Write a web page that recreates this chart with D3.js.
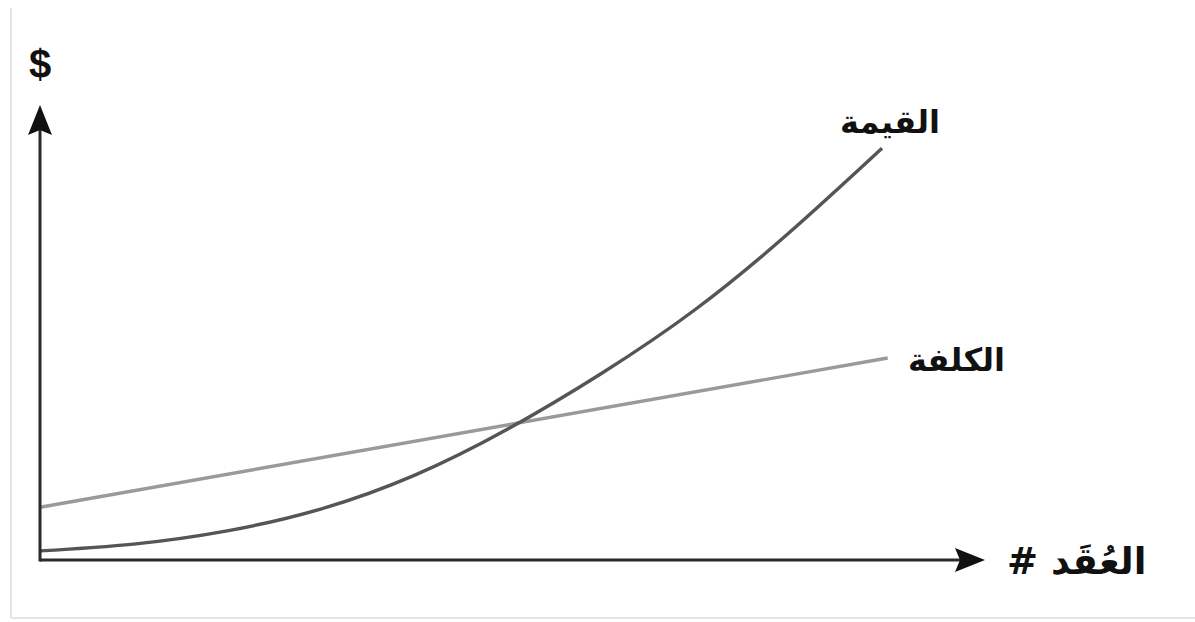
<!DOCTYPE html>
<html><head><meta charset="utf-8">
<script src="https://cdn.jsdelivr.net/npm/d3@7"></script>
<style>
html,body{margin:0;padding:0;background:#fff;}
svg{display:block;}
</style></head>
<body>
<svg id="chart" width="1195" height="622"></svg>
<script>
// Data (arbitrary units)
const contracts = [0, 1, 2, 3, 4, 5, 6, 7, 8, 9];
const valueSeries = [2.0, 3.5, 6.4, 11.2, 18.6, 28.8, 41.0, 55.0, 71.8, 90.5];
const costX = [0, 9.06];
const costSeries = [11.6, 44.4];
const labels = { value: "القيمة", cost: "الكلفة", xTitle: "# العُقَد", yTitle: "$" };
const xMax = 10.1, yMax = 100;

const svg = d3.select("#chart");
const x = d3.scaleLinear().domain([0, xMax]).range([40, 985]);
const y = d3.scaleLinear().domain([0, yMax]).range([560, 105]);

// faint frame
svg.append("line").attr("x1", 11).attr("x2", 11).attr("y1", 8).attr("y2", 618)
  .attr("stroke", "#e4e4e4").attr("stroke-width", 2);
svg.append("line").attr("x1", 11).attr("x2", 1195).attr("y1", 618).attr("y2", 618)
  .attr("stroke", "#e4e4e4").attr("stroke-width", 2);

const line = d3.line().x(d => x(d[0])).y(d => y(d[1])).curve(d3.curveNatural);

// cost line
svg.append("path")
  .datum(costX.map((v, i) => [v, costSeries[i]]))
  .attr("d", line).attr("fill", "none")
  .attr("stroke", "#9a9a9a").attr("stroke-width", 3.4);

// value curve
svg.append("path")
  .datum(contracts.map((v, i) => [v, valueSeries[i]]))
  .attr("d", line).attr("fill", "none")
  .attr("stroke", "#555").attr("stroke-width", 3.4);

// axes
const axisColor = "#2a2a2a";
const ax = svg.append("g");
ax.append("line").attr("x1", x(0)).attr("x2", x(xMax) - 20).attr("y1", y(0)).attr("y2", y(0))
  .attr("stroke", axisColor).attr("stroke-width", 3);
ax.append("line").attr("x1", x(0)).attr("x2", x(0)).attr("y1", y(0) + 1.5).attr("y2", y(yMax) + 20)
  .attr("stroke", axisColor).attr("stroke-width", 3);
// arrowheads
const tx = x(xMax), ty = y(0);
ax.append("path")
  .attr("d", `M${tx},${ty} L${tx - 30},${ty - 12} L${tx - 25},${ty} L${tx - 30},${ty + 12} Z`)
  .attr("fill", "#111");
const ux = x(0), uy = y(yMax);
ax.append("path")
  .attr("d", `M${ux},${uy} L${ux - 12},${uy + 30} L${ux},${uy + 25} L${ux + 12},${uy + 30} Z`)
  .attr("fill", "#111");

// texts
svg.append("text").attr("x", x(0)).attr("y", 78).attr("text-anchor", "middle")
  .attr("font-family", "Liberation Sans, Arial, sans-serif").attr("font-weight", "bold")
  .attr("font-size", 40).attr("fill", "#111").text(labels.yTitle);

const arab = "DejaVu Sans, Noto Sans, sans-serif";
svg.append("text").attr("x", 940).attr("y", 133).attr("text-anchor", "end")
  .attr("font-family", arab).attr("font-weight", "bold").attr("font-size", 32)
  .attr("fill", "#111").text(labels.value);
svg.append("text").attr("x", 1005).attr("y", 371).attr("text-anchor", "end")
  .attr("font-family", arab).attr("font-weight", "bold").attr("font-size", 32)
  .attr("fill", "#111").text(labels.cost);
svg.append("text").attr("x", 1007).attr("y", 574).attr("text-anchor", "start")
  .attr("font-family", arab).attr("font-weight", "bold").attr("font-size", 37)
  .attr("fill", "#111").text(labels.xTitle);
</script>
</body></html>
